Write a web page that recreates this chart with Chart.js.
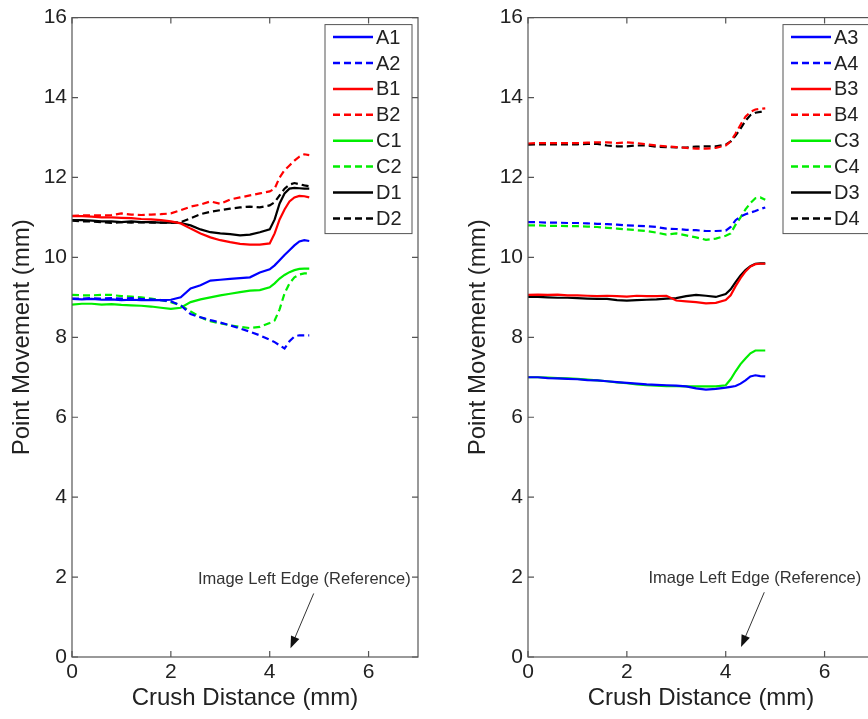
<!DOCTYPE html>
<html>
<head>
<meta charset="utf-8">
<script src="https://cdn.jsdelivr.net/npm/chart.js@4.4.1/dist/chart.umd.min.js"></script>
<style>
  html, body { margin: 0; padding: 0; background: #fff; overflow: hidden; width: 868px; height: 719px; }
  .wrap { position: absolute; top: 0; width: 440px; height: 719px; }
  #left-wrap { left: 0; }
  #right-wrap { left: 456px; }
</style>
</head>
<body>
<div class="wrap" id="left-wrap"><canvas id="chart-left" width="440" height="719"></canvas></div>
<div class="wrap" id="right-wrap"><canvas id="chart-right" width="440" height="719"></canvas></div>
<script>
// crush distance (mm), shared by every series
const crushDistance = [0, 0.2, 0.4, 0.6, 0.8, 1.0, 1.2, 1.4, 1.6, 1.8, 2.0, 2.2, 2.4, 2.6, 2.8, 3.0, 3.2, 3.4, 3.6, 3.8, 4.0,
  4.1, 4.2, 4.3, 4.4, 4.5, 4.6, 4.7, 4.8];
const xTicks = [0, 2, 4, 6];
const yTicks = [0, 2, 4, 6, 8, 10, 12, 14, 16];

// left panel
const a1 = [8.96, 8.95, 8.96, 8.94, 8.95, 8.93, 8.94, 8.93, 8.93, 8.93, 8.94, 9.0, 9.22, 9.3, 9.42, 9.44, 9.46, 9.48, 9.5, 9.62, 9.7,
  9.8, 9.93, 10.06, 10.18, 10.3, 10.4, 10.43, 10.41];
const a2 = [8.97, 8.97, 8.98, 8.97, 8.98, 8.97, 8.98, 8.96, 8.95, 8.93, 8.9, 8.8, 8.58, 8.5, 8.43, 8.37, 8.3, 8.22, 8.14, 8.05, 7.94,
  7.88, 7.8, 7.72, 7.9, 8.02, 8.05, 8.05, 8.05];
const b1 = [11.03, 11.03, 11.02, 11.0, 11.0, 10.99, 10.98, 10.96, 10.95, 10.93, 10.9, 10.85, 10.72, 10.6, 10.5, 10.43, 10.38, 10.34, 10.32, 10.32, 10.35,
  10.6, 10.95, 11.2, 11.4, 11.5, 11.54, 11.53, 11.5];
const b2 = [11.04, 11.05, 11.05, 11.05, 11.06, 11.1, 11.07, 11.06, 11.07, 11.08, 11.1, 11.18, 11.27, 11.32, 11.4, 11.34, 11.45, 11.5, 11.55, 11.6, 11.65,
  11.72, 12.0, 12.18, 12.3, 12.42, 12.52, 12.58, 12.56];
const c1 = [8.82, 8.84, 8.84, 8.82, 8.83, 8.81, 8.8, 8.79, 8.77, 8.74, 8.71, 8.74, 8.88, 8.95, 9.0, 9.05, 9.09, 9.13, 9.17, 9.18, 9.25,
  9.35, 9.47, 9.56, 9.63, 9.68, 9.71, 9.72, 9.72];
const c2 = [9.06, 9.05, 9.05, 9.06, 9.06, 9.03, 9.02, 9.0, 8.97, 8.93, 8.88, 8.8, 8.65, 8.5, 8.4, 8.35, 8.3, 8.26, 8.23, 8.26, 8.36,
  8.42, 8.7, 9.1, 9.35, 9.5, 9.57, 9.6, 9.6];
const d1 = [10.93, 10.93, 10.92, 10.9, 10.9, 10.88, 10.9, 10.88, 10.88, 10.87, 10.87, 10.86, 10.8, 10.7, 10.63, 10.6, 10.58, 10.55, 10.57, 10.63, 10.7,
  10.95, 11.35, 11.6, 11.72, 11.74, 11.73, 11.72, 11.72];
const d2 = [10.92, 10.9, 10.9, 10.88, 10.86, 10.88, 10.87, 10.88, 10.87, 10.87, 10.87, 10.88, 10.98, 11.08, 11.14, 11.18, 11.22, 11.25, 11.27, 11.25, 11.3,
  11.38, 11.55, 11.72, 11.82, 11.86, 11.83, 11.8, 11.78];

// right panel
const a3 = [7.0, 7.0, 6.98, 6.97, 6.96, 6.95, 6.93, 6.92, 6.9, 6.88, 6.86, 6.84, 6.82, 6.81, 6.8, 6.79, 6.77, 6.72, 6.69, 6.71, 6.74,
  6.76, 6.78, 6.84, 6.92, 7.02, 7.05, 7.03, 7.02];
const a4 = [10.88, 10.88, 10.87, 10.87, 10.86, 10.86, 10.85, 10.84, 10.83, 10.82, 10.8, 10.79, 10.78, 10.76, 10.72, 10.71, 10.69, 10.68, 10.66, 10.66, 10.67,
  10.76, 10.93, 11.02, 11.08, 11.12, 11.16, 11.21, 11.25];
const b3 = [9.06, 9.07, 9.06, 9.07, 9.05, 9.05, 9.04, 9.03, 9.04, 9.03, 9.02, 9.04, 9.03, 9.03, 9.04, 8.92, 8.9, 8.88, 8.85, 8.86, 8.93,
  9.05, 9.28, 9.48, 9.65, 9.77, 9.83, 9.84, 9.84];
const b4 = [12.85, 12.86, 12.86, 12.86, 12.86, 12.86, 12.87, 12.88, 12.88, 12.86, 12.88, 12.86, 12.83, 12.8, 12.78, 12.76, 12.74, 12.72, 12.72, 12.74, 12.8,
  12.9, 13.1, 13.32, 13.52, 13.64, 13.7, 13.72, 13.73];
const c3 = [7.0, 7.0, 6.99, 6.98, 6.97, 6.96, 6.94, 6.92, 6.9, 6.87, 6.85, 6.82, 6.8, 6.79, 6.78, 6.78, 6.77, 6.77, 6.77, 6.77, 6.8,
  6.95, 7.15, 7.33, 7.47, 7.6, 7.67, 7.67, 7.67];
const c4 = [10.8, 10.8, 10.79, 10.79, 10.78, 10.78, 10.77, 10.76, 10.74, 10.72, 10.7, 10.68, 10.66, 10.62, 10.57, 10.6, 10.55, 10.5, 10.44, 10.47, 10.54,
  10.6, 10.82, 11.0, 11.2, 11.36, 11.48, 11.5, 11.44];
const d3 = [9.01, 9.01, 9.0, 8.99, 8.99, 8.98, 8.97, 8.96, 8.96, 8.93, 8.92, 8.93, 8.94, 8.95, 8.97, 8.98, 9.03, 9.06, 9.04, 9.01, 9.08,
  9.2, 9.38, 9.55, 9.68, 9.78, 9.84, 9.85, 9.85];
const d4 = [12.82, 12.83, 12.83, 12.83, 12.83, 12.83, 12.84, 12.84, 12.8, 12.78, 12.78, 12.8, 12.8, 12.77, 12.76, 12.75, 12.75, 12.77, 12.78, 12.78, 12.82,
  12.9, 13.05, 13.22, 13.42, 13.56, 13.62, 13.64, 13.64];

const FONT = '"Liberation Sans", Arial, Helvetica, sans-serif';
const DASH = [7, 4];

function series(label, values, color, dashed) {
  return {
    label: label,
    data: crushDistance.map((x, i) => ({ x: x, y: values[i] })),
    borderColor: color,
    backgroundColor: color,
    borderWidth: 2.2,
    borderDash: dashed ? DASH : [],
    pointRadius: 0,
    tension: 0,
    fill: false
  };
}

// box, inward ticks, boxed legend and the arrow note (MATLAB look)
function framePlugin(note, box) {
  return {
    id: 'frame',
    afterDraw(chart) {
      const ctx = chart.ctx;
      const area = chart.chartArea;
      const xs = chart.scales.x;
      const ys = chart.scales.y;
      ctx.save();

      ctx.strokeStyle = '#555';
      ctx.lineWidth = 1.2;
      ctx.strokeRect(area.left, area.top, area.right - area.left, area.bottom - area.top);
      ctx.beginPath();
      xTicks.forEach(v => {
        const px = xs.getPixelForValue(v);
        ctx.moveTo(px, area.bottom); ctx.lineTo(px, area.bottom - 6);
        ctx.moveTo(px, area.top); ctx.lineTo(px, area.top + 6);
      });
      yTicks.forEach(v => {
        const py = ys.getPixelForValue(v);
        ctx.moveTo(area.left, py); ctx.lineTo(area.left + 6, py);
        ctx.moveTo(area.right, py); ctx.lineTo(area.right - 6, py);
      });
      ctx.stroke();

      // legend
      const boxW = box.width, boxH = 209;
      const bx = area.right - box.gap - boxW, by = area.top + 7;
      ctx.fillStyle = '#fff';
      ctx.fillRect(bx, by, boxW, boxH);
      ctx.strokeStyle = '#555';
      ctx.lineWidth = 1;
      ctx.strokeRect(bx, by, boxW, boxH);
      ctx.font = '20px ' + FONT;
      ctx.textBaseline = 'middle';
      ctx.textAlign = 'left';
      chart.data.datasets.forEach((ds, i) => {
        const cy = by + 12.5 + i * 25.9;
        ctx.beginPath();
        ctx.strokeStyle = ds.borderColor;
        ctx.lineWidth = 2.5;
        ctx.setLineDash(ds.borderDash.length ? DASH : []);
        ctx.moveTo(bx + 8, cy);
        ctx.lineTo(bx + 48, cy);
        ctx.stroke();
        ctx.setLineDash([]);
        ctx.fillStyle = '#222';
        ctx.fillText(ds.label, bx + 51, cy + 1);
      });

      // note with arrow
      ctx.font = '16.5px ' + FONT;
      ctx.fillStyle = '#333';
      ctx.textAlign = 'center';
      ctx.fillText('Image Left Edge (Reference)', xs.getPixelForValue(note.tx), ys.getPixelForValue(note.ty));
      const x0 = xs.getPixelForValue(note.x0), y0 = ys.getPixelForValue(note.y0);
      const x1 = xs.getPixelForValue(note.x1), y1 = ys.getPixelForValue(note.y1);
      const ang = Math.atan2(y1 - y0, x1 - x0);
      ctx.strokeStyle = '#333';
      ctx.lineWidth = 1;
      ctx.beginPath();
      ctx.moveTo(x0, y0);
      ctx.lineTo(x1 - 8 * Math.cos(ang), y1 - 8 * Math.sin(ang));
      ctx.stroke();
      ctx.fillStyle = '#111';
      ctx.beginPath();
      ctx.moveTo(x1, y1);
      ctx.lineTo(x1 - 12 * Math.cos(ang) + 4.5 * Math.sin(ang), y1 - 12 * Math.sin(ang) - 4.5 * Math.cos(ang));
      ctx.lineTo(x1 - 12 * Math.cos(ang) - 4.5 * Math.sin(ang), y1 - 12 * Math.sin(ang) + 4.5 * Math.cos(ang));
      ctx.closePath();
      ctx.fill();
      ctx.restore();
    }
  };
}

function makeChart(id, datasets, note, box) {
  return new Chart(document.getElementById(id), {
    type: 'line',
    data: { datasets: datasets },
    options: {
      responsive: false,
      animation: false,
      layout: { padding: { left: 0, top: 14, right: 22, bottom: 0 } },
      plugins: { legend: { display: false }, tooltip: { enabled: false } },
      scales: {
        x: {
          type: 'linear',
          min: 0,
          max: 7,
          afterBuildTicks: scale => { scale.ticks = xTicks.map(v => ({ value: v })); },
          afterFit: scale => { scale.height = 62; },
          grid: { display: false, drawTicks: false },
          border: { display: false },
          ticks: { padding: 3, color: '#222', font: { family: FONT, size: 21 }, maxRotation: 0 },
          title: { display: true, text: 'Crush Distance (mm)', color: '#222', padding: { top: 0, bottom: 6 }, font: { family: FONT, size: 24 } }
        },
        y: {
          min: 0,
          max: 16,
          afterBuildTicks: scale => { scale.ticks = yTicks.map(v => ({ value: v })); },
          afterFit: scale => { scale.width = 72; },
          grid: { display: false, drawTicks: false },
          border: { display: false },
          ticks: { padding: 5, color: '#222', font: { family: FONT, size: 21 } },
          title: { display: true, text: 'Point Movement (mm)', color: '#222', padding: { top: 8, bottom: 0 }, font: { family: FONT, size: 24 } }
        }
      }
    },
    plugins: [framePlugin(note, box)]
  });
}

makeChart('chart-left', [
  series('A1', a1, '#0000ff', false),
  series('A2', a2, '#0000ff', true),
  series('B1', b1, '#ff0000', false),
  series('B2', b2, '#ff0000', true),
  series('C1', c1, '#00ee00', false),
  series('C2', c2, '#00ee00', true),
  series('D1', d1, '#000000', false),
  series('D2', d2, '#000000', true)
], { tx: 4.7, ty: 1.94, x0: 4.89, y0: 1.59, x1: 4.42, y1: 0.22 }, { width: 87, gap: 6 });

makeChart('chart-right', [
  series('A3', a3, '#0000ff', false),
  series('A4', a4, '#0000ff', true),
  series('B3', b3, '#ff0000', false),
  series('B4', b4, '#ff0000', true),
  series('C3', c3, '#00ee00', false),
  series('C4', c4, '#00ee00', true),
  series('D3', d3, '#000000', false),
  series('D4', d4, '#000000', true)
], { tx: 4.59, ty: 1.97, x0: 4.78, y0: 1.62, x1: 4.31, y1: 0.25 }, { width: 95, gap: -4 });
</script>
</body>
</html>
